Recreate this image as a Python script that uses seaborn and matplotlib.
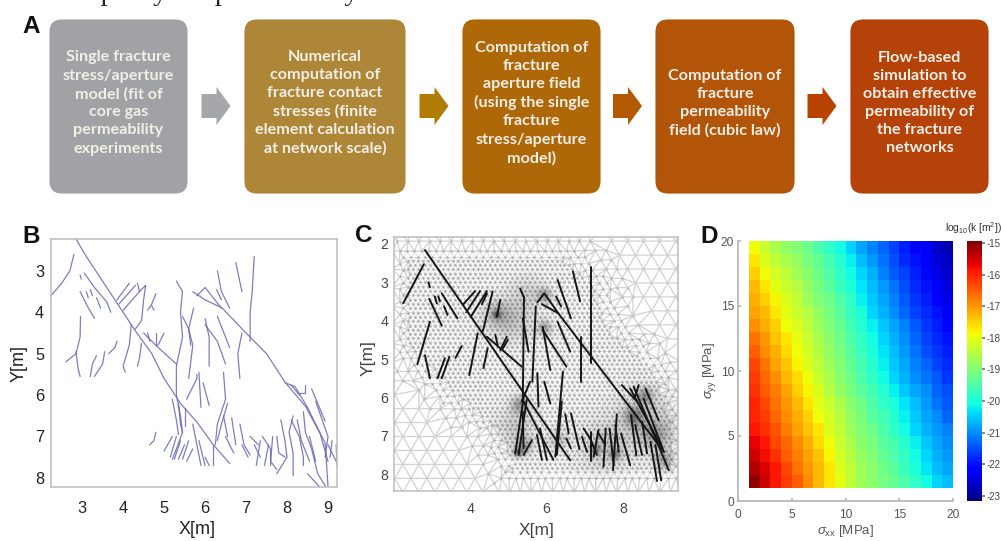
import numpy as np
import pandas as pd
import seaborn as sns
import matplotlib
matplotlib.use("Agg")
import matplotlib.pyplot as plt
from matplotlib.patches import FancyBboxPatch, Polygon
from matplotlib.path import Path
from matplotlib.tri import Triangulation

box_texts = [
    "Single fracture\nstress/aperture\nmodel (fit of\ncore gas\npermeability\nexperiments",
    "Numerical\ncomputation of\nfracture contact\nstresses (finite\nelement calculation\nat network scale)",
    "Computation of\nfracture\naperture field\n(using the single\nfracture\nstress/aperture\nmodel)",
    "Computation of\nfracture\npermeability\nfield (cubic law)",
    "Flow-based\nsimulation to\nobtain effective\npermeability of\nthe fracture\nnetworks",
]
box_colors = ["#9d9fa2", "#ab8231", "#ad6300", "#b04f00", "#b33c00"]
arrow_colors = ["#a5a7aa", "#b17c05", "#b35a00", "#b84300"]

# fracture traces in panel B, x and y in metres
fractures_b = [
    [(2.85, 2.23), (3.1, 2.65), (3.5, 3.25), (4.0, 4.0), (4.3, 4.45), (4.7, 5.0), (5.0, 5.6), (5.4, 6.2), (5.8, 6.65), (6.2, 7.2), (6.6, 7.65)],
    [(5.7, 3.5), (6.0, 3.7), (6.41, 3.89), (7.0, 4.5), (7.5, 5.0), (7.96, 5.7), (8.45, 6.27), (8.93, 7.15), (9.0, 8.2)],
    [(2.24, 3.6), (2.5, 3.3), (2.7, 3.0), (2.8, 2.6)],
    [(2.95, 3.1), (2.98, 3.2)],
    [(3.05, 3.05), (3.3, 3.4), (3.6, 3.75), (3.7, 4.0)],
    [(2.95, 3.5), (3.1, 3.8), (3.3, 4.15)],
    [(3.1, 3.5), (3.15, 3.65)],
    [(3.2, 3.45), (3.25, 3.6)],
    [(3.35, 3.65), (3.45, 3.9)],
    [(2.96, 4.1), (2.95, 4.6), (2.85, 5.0), (2.6, 5.2)],
    [(2.85, 4.95), (2.9, 5.35), (2.95, 5.55)],
    [(3.2, 5.55), (3.25, 5.25), (3.35, 5.05)],
    [(3.3, 5.55), (3.5, 5.25), (3.55, 4.95)],
    [(3.65, 5.0), (3.8, 4.85), (3.85, 4.7)],
    [(3.85, 3.7), (4.15, 3.3)],
    [(3.9, 3.8), (4.3, 3.35)],
    [(4.0, 3.95), (4.4, 3.5), (4.55, 3.35)],
    [(4.35, 3.3), (4.4, 3.5)],
    [(4.55, 3.35), (4.5, 3.7), (4.45, 4.2), (4.3, 4.4)],
    [(4.8, 3.55), (4.7, 3.8), (4.6, 3.95)],
    [(4.7, 3.85), (4.75, 3.95)],
    [(4.2, 4.3), (4.15, 4.8), (4.0, 5.3), (4.05, 5.45)],
    [(4.45, 4.75), (4.4, 5.1), (4.35, 5.3)],
    [(4.5, 4.5), (4.8, 4.8), (5.3, 5.25)],
    [(4.6, 4.5), (4.65, 4.7)],
    [(4.8, 4.5), (4.8, 4.8)],
    [(5.0, 4.5), (4.85, 4.8)],
    [(5.3, 3.25), (5.45, 3.5), (5.4, 4.0), (5.45, 4.6), (5.3, 5.3), (5.3, 6.0), (5.4, 6.5), (5.45, 6.9)],
    [(5.45, 4.1), (5.6, 4.4), (5.65, 4.8)],
    [(5.72, 3.9), (5.6, 4.4), (5.7, 4.8), (5.6, 5.6)],
    [(5.55, 6.1), (5.8, 5.6), (5.8, 5.5)],
    [(5.85, 5.45), (5.9, 6.3)],
    [(6.0, 4.15), (6.1, 4.6), (6.1, 5.3)],
    [(6.0, 4.3), (6.3, 4.7), (6.5, 5.25)],
    [(5.95, 5.7), (6.1, 6.25)],
    [(5.8, 3.6), (6.0, 3.4), (6.2, 3.65), (6.4, 3.9)],
    [(6.3, 3.0), (6.4, 3.5), (6.6, 3.9)],
    [(6.28, 3.45), (6.4, 3.7)],
    [(6.3, 4.1), (6.5, 4.6), (6.6, 4.85)],
    [(6.75, 2.8), (6.9, 3.5)],
    [(7.2, 2.65), (7.15, 3.5), (7.1, 4.0), (7.1, 4.7)],
    [(6.9, 4.5), (6.8, 5.0), (6.85, 5.6)],
    [(6.45, 5.45), (6.5, 6.1), (6.3, 6.7), (6.25, 7.2)],
    [(4.8, 6.9), (4.75, 7.1), (4.65, 7.2)],
    [(5.2, 7.0), (5.0, 7.35)],
    [(5.3, 7.0), (5.15, 7.5)],
    [(5.4, 7.1), (5.25, 7.55)],
    [(5.5, 7.2), (5.35, 7.55)],
    [(5.6, 7.1), (5.45, 7.55)],
    [(5.7, 7.3), (5.55, 7.6)],
    [(5.45, 6.9), (5.3, 7.3), (5.2, 7.55)],
    [(5.7, 6.7), (5.8, 7.2), (5.9, 7.7)],
    [(5.85, 7.1), (6.0, 7.7)],
    [(6.0, 7.5), (6.1, 7.7)],
    [(6.2, 7.2), (6.2, 7.7)],
    [(5.2, 6.1), (5.3, 6.6), (5.35, 6.95)],
    [(5.35, 6.2), (5.4, 6.7), (5.45, 6.9)],
    [(5.5, 6.3), (5.5, 6.75)],
    [(6.55, 6.2), (6.4, 6.7), (6.3, 7.1)],
    [(6.45, 6.5), (6.55, 7.0)],
    [(6.65, 6.55), (6.75, 7.2)],
    [(6.85, 6.7), (6.95, 7.2), (7.1, 7.45)],
    [(6.5, 7.0), (6.7, 7.4)],
    [(6.9, 7.2), (7.05, 7.5)],
    [(7.1, 7.0), (7.3, 7.2)],
    [(7.2, 7.2), (7.35, 7.5)],
    [(7.35, 7.1), (7.25, 7.7)],
    [(7.55, 7.2), (7.45, 7.7)],
    [(7.4, 7.0), (7.6, 7.3), (7.6, 7.7)],
    [(7.65, 7.0), (7.6, 7.6), (7.75, 7.8)],
    [(7.75, 7.0), (7.8, 7.4), (7.95, 7.5)],
    [(7.85, 6.6), (7.95, 7.1), (8.0, 7.5), (7.75, 7.9)],
    [(8.15, 6.5), (8.05, 6.9), (8.15, 7.4), (8.15, 7.95)],
    [(8.1, 6.6), (8.3, 7.0), (8.4, 7.5), (8.4, 7.7)],
    [(8.25, 6.6), (8.35, 7.1), (8.55, 7.6)],
    [(8.4, 6.4), (8.45, 6.9), (8.6, 7.3), (8.75, 7.9), (8.95, 8.22)],
    [(8.5, 6.3), (8.8, 6.9), (9.0, 7.6)],
    [(8.55, 7.0), (8.7, 7.6)],
    [(8.5, 7.9), (8.8, 8.22)],
    [(8.6, 5.85), (8.93, 6.63)],
    [(8.7, 6.15), (9.0, 7.0), (8.93, 7.5)],
    [(7.95, 5.7), (8.2, 5.8), (8.5, 6.3)],
    [(8.1, 5.75), (8.3, 6.0)],
    [(8.3, 5.95), (8.45, 5.95), (8.45, 5.75)],
    [(9.0, 7.2), (9.2, 7.6)],
    [(9.1, 7.1), (9.05, 7.5)],
    [(9.2, 7.2), (9.22, 7.7)],
]

# the same network straightened for the mesh in panel C
fractures_c = [
    [(2.82, 2.16), (6.62, 7.64)],
    [(5.88, 3.57), (6.31, 3.81), (9.07, 7.42)],
    [(2.25, 3.55), (2.79, 2.53)], [(2.91, 3.0), (2.95, 3.13)], [(2.93, 3.43), (3.26, 4.13)],
    [(3.08, 3.37), (3.13, 3.55)], [(3.17, 3.37), (3.21, 3.50)], [(3.26, 3.29), (3.67, 3.94)],
    [(3.32, 3.63), (3.41, 3.85)], [(2.95, 4.03), (2.62, 5.14)], [(2.82, 4.90), (2.95, 5.50)],
    [(3.15, 5.50), (3.34, 4.98)], [(3.26, 5.50), (3.46, 4.94)], [(3.62, 4.97), (3.78, 4.66)],
    [(3.81, 3.59), (4.13, 3.23)], [(3.90, 3.78), (4.26, 3.23)], [(4.02, 3.90), (4.44, 3.23)],
    [(4.31, 3.57), (4.44, 3.29)], [(4.59, 3.24), (4.33, 4.29)], [(4.79, 3.46), (4.70, 3.90)],
    [(4.20, 4.33), (3.98, 5.42)], [(4.46, 4.72), (4.35, 5.24)], [(4.44, 4.42), (5.35, 5.20)],
    [(4.66, 4.37), (4.72, 4.63)], [(4.79, 4.77), (4.96, 4.42)], [(4.85, 4.74), (4.99, 4.50)],
    [(5.31, 3.16), (5.40, 3.37)], [(5.41, 3.37), (5.38, 6.11)], [(5.38, 3.94), (5.53, 4.81)],
    [(5.72, 3.63), (5.63, 5.59)], [(5.76, 5.37), (5.79, 6.24)], [(5.57, 5.59), (5.35, 6.11)],
    [(5.90, 4.16), (6.10, 5.29)], [(5.90, 4.24), (6.52, 5.20)], [(5.94, 5.59), (6.10, 6.16)],
    [(5.76, 3.52), (5.94, 3.29), (6.31, 3.81)], [(6.29, 2.94), (6.64, 3.94)], [(6.25, 3.37), (6.38, 3.63)],
    [(6.29, 4.03), (6.62, 4.81)], [(6.69, 2.72), (6.88, 3.50)], [(7.16, 2.59), (7.16, 5.11)],
    [(6.91, 4.42), (6.91, 5.59)], [(6.43, 5.33), (6.23, 7.55)], [(5.40, 6.03), (5.18, 7.46)],
    [(5.48, 6.07), (5.27, 7.50)], [(5.38, 6.37), (5.40, 7.33)], [(5.40, 6.11), (6.18, 7.63)],
    [(5.62, 7.11), (5.40, 7.50)], [(5.75, 6.98), (5.88, 7.63)], [(5.83, 6.81), (6.01, 7.63)],
    [(6.40, 6.11), (6.27, 7.50)], [(6.49, 6.44), (6.58, 6.94)], [(6.64, 6.42), (6.86, 7.35)],
    [(6.52, 7.07), (6.64, 7.33)], [(6.93, 7.03), (7.06, 7.42)], [(6.97, 6.81), (7.14, 7.07)],
    [(7.17, 6.90), (7.17, 7.66)], [(7.14, 7.07), (7.32, 7.50)], [(7.36, 6.85), (7.23, 7.55)],
    [(7.34, 6.90), (7.54, 7.24)], [(7.55, 6.81), (7.49, 7.81)], [(7.65, 6.81), (7.76, 7.77)],
    [(7.84, 6.44), (7.74, 7.90)], [(7.80, 6.72), (7.89, 7.42)], [(7.95, 6.94), (8.19, 7.77)],
    [(7.97, 5.68), (8.37, 6.11)], [(8.19, 5.77), (8.98, 7.24)], [(8.28, 5.72), (9.20, 7.90)],
    [(8.41, 5.68), (8.32, 5.98)], [(8.59, 5.77), (8.93, 6.59)], [(8.21, 6.46), (8.35, 7.52)],
    [(8.32, 6.72), (8.50, 7.50)], [(8.50, 6.63), (8.63, 7.46)], [(8.72, 7.16), (8.89, 8.18)],
    [(8.85, 7.24), (9.00, 8.16)], [(8.54, 6.03), (9.07, 7.42)],
]

# outlines of the refined mesh zones and the dark spots at fracture clusters
fine_zone = [(2.35, 2.4), (6.4, 2.4), (7.2, 3.0), (7.6, 4.2), (8.9, 5.4), (9.3, 7.0), (9.25, 7.9),
             (5.1, 7.9), (4.8, 6.9), (3.5, 5.8), (2.35, 4.6)]
middle_zone = [(2.15, 2.1), (6.8, 2.1), (7.6, 2.9), (8.05, 4.1), (9.2, 5.2), (9.5, 7.0), (9.5, 8.2),
               (4.85, 8.2), (4.4, 7.0), (3.2, 6.1), (2.15, 4.9)]
outer_zone = [(1.9, 1.8), (7.3, 1.8), (8.1, 2.9), (8.5, 4.0), (9.6, 5.1), (9.6, 8.5),
              (4.6, 8.5), (4.0, 7.2), (2.9, 6.4), (1.9, 5.2)]
spot_x = [4.7, 4.7, 5.95, 5.95, 5.3, 5.4, 8.3, 8.6, 5.25, 7.3, 7.8, 9.1, 6.3, 5.1, 8.9, 5.5, 8.6, 7.5, 5.2]
spot_y = [3.85, 3.85, 3.35, 4.2, 6.2, 7.3, 6.5, 5.95, 7.45, 7.35, 7.5, 7.65, 7.1, 4.0, 7.0, 3.3, 6.6, 7.3, 6.8]
spot_w = [0.07, 0.25, 0.13, 0.14, 0.16, 0.16, 0.17, 0.14, 0.08, 0.09, 0.1, 0.18, 0.18, 0.4, 0.25, 0.3, 0.55, 0.45, 0.35]
spot_a = [0.5, 0.25, 0.4, 0.35, 0.4, 0.35, 0.45, 0.4, 0.5, 0.45, 0.45, 0.35, 0.25, 0.2, 0.3, 0.15, 0.22, 0.2, 0.2]

# log10 permeability, rows from syy=1 upward, columns from sxx=1 rightward
perm_rows = [
    [-15.1, -15.5, -15.9, -16.2, -16.5, -16.9, -17.3, -17.7, -18.0, -18.4, -18.7, -18.9, -19.1, -19.3, -19.5, -19.8, -20.1, -20.4, -20.6],
    [-15.3, -15.6, -15.9, -16.3, -16.7, -17.0, -17.3, -17.7, -18.1, -18.4, -18.7, -18.9, -19.2, -19.4, -19.7, -20.0, -20.3, -20.6, -20.8],
    [-15.5, -15.8, -16.1, -16.5, -16.8, -17.1, -17.4, -17.8, -18.2, -18.5, -18.8, -19.0, -19.3, -19.5, -19.8, -20.1, -20.4, -20.7, -20.9],
    [-15.7, -15.9, -16.3, -16.6, -16.9, -17.2, -17.6, -17.9, -18.3, -18.6, -18.9, -19.1, -19.4, -19.6, -19.9, -20.2, -20.5, -20.8, -21.0],
    [-15.9, -16.1, -16.4, -16.8, -17.1, -17.4, -17.7, -18.1, -18.4, -18.7, -19.0, -19.2, -19.5, -19.8, -20.1, -20.4, -20.7, -20.9, -21.1],
    [-16.0, -16.2, -16.6, -16.9, -17.2, -17.5, -17.9, -18.2, -18.5, -18.8, -19.1, -19.4, -19.6, -19.9, -20.2, -20.5, -20.8, -21.0, -21.3],
    [-16.0, -16.3, -16.7, -17.0, -17.3, -17.7, -18.0, -18.3, -18.6, -18.9, -19.2, -19.5, -19.8, -20.0, -20.3, -20.6, -20.9, -21.2, -21.4],
    [-16.1, -16.5, -16.8, -17.1, -17.5, -17.8, -18.1, -18.5, -18.8, -19.1, -19.4, -19.6, -19.9, -20.2, -20.5, -20.8, -21.0, -21.3, -21.5],
    [-16.2, -16.6, -16.9, -17.3, -17.6, -17.9, -18.3, -18.6, -18.9, -19.2, -19.5, -19.8, -20.1, -20.4, -20.7, -21.0, -21.2, -21.4, -21.7],
    [-16.3, -16.7, -17.1, -17.4, -17.8, -18.1, -18.4, -18.7, -19.0, -19.3, -19.6, -19.9, -20.2, -20.5, -20.8, -21.1, -21.3, -21.6, -21.8],
    [-16.5, -16.9, -17.2, -17.6, -17.9, -18.2, -18.5, -18.8, -19.1, -19.4, -19.7, -20.0, -20.3, -20.6, -20.9, -21.2, -21.5, -21.7, -21.9],
    [-16.7, -17.0, -17.4, -17.7, -18.0, -18.3, -18.6, -18.9, -19.2, -19.5, -19.8, -20.1, -20.4, -20.7, -21.0, -21.3, -21.6, -21.8, -22.0],
    [-16.9, -17.2, -17.5, -17.9, -18.1, -18.4, -18.7, -19.0, -19.3, -19.6, -19.9, -20.2, -20.5, -20.8, -21.1, -21.4, -21.7, -21.9, -22.1],
    [-17.1, -17.3, -17.7, -18.0, -18.3, -18.5, -18.8, -19.1, -19.4, -19.7, -20.0, -20.4, -20.7, -21.0, -21.3, -21.6, -21.8, -22.0, -22.3],
    [-17.2, -17.5, -17.8, -18.1, -18.4, -18.7, -19.0, -19.2, -19.5, -19.8, -20.2, -20.5, -20.8, -21.1, -21.4, -21.7, -21.9, -22.2, -22.4],
    [-17.3, -17.7, -18.0, -18.3, -18.5, -18.8, -19.1, -19.4, -19.7, -20.0, -20.3, -20.6, -20.9, -21.2, -21.5, -21.8, -22.0, -22.3, -22.5],
    [-17.5, -17.9, -18.2, -18.4, -18.7, -18.9, -19.2, -19.5, -19.8, -20.1, -20.4, -20.7, -21.1, -21.4, -21.6, -21.9, -22.1, -22.4, -22.6],
    [-17.7, -18.1, -18.4, -18.6, -18.8, -19.1, -19.3, -19.6, -19.9, -20.2, -20.6, -20.9, -21.2, -21.5, -21.8, -22.0, -22.2, -22.5, -22.7],
    [-17.9, -18.3, -18.6, -18.8, -19.0, -19.2, -19.5, -19.8, -20.1, -20.4, -20.8, -21.1, -21.3, -21.6, -21.9, -22.1, -22.3, -22.6, -22.8],
]
cbar_ticks = [-15, -16, -17, -18, -19, -20, -21, -22, -23]

W, H = 1001, 541


def px_axes(fig, left, top, right, bottom):
    return fig.add_axes([left / W, 1 - bottom / H, (right - left) / W, (bottom - top) / H])


def to_frame(lines):
    rows = [(i, x, y) for i, line in enumerate(lines) for x, y in line]
    return pd.DataFrame(rows, columns=["frac", "x", "y"])


def hex_lattice(h):
    ys = np.arange(1.2, 9.0, h * 0.866)
    pts = []
    for i, y in enumerate(ys):
        for x in np.arange(1.4 + (i % 2) * h / 2, 10.2, h):
            pts.append((x, y))
    return np.array(pts)


def style_axes(ax, color="#bdbdbd"):
    for s in ax.spines.values():
        s.set_visible(True)
        s.set_color(color)
        s.set_linewidth(1.1)


sns.set_theme(style="white")
plt.rcParams["font.family"] = ["Liberation Sans", "DejaVu Sans"]
plt.rcParams["mathtext.fontset"] = "custom"
plt.rcParams["mathtext.rm"] = "Liberation Sans"
plt.rcParams["mathtext.it"] = "Liberation Sans:italic"
plt.rcParams["mathtext.bf"] = "Liberation Sans:bold"

fig = plt.figure(figsize=(W / 100, H / 100), dpi=100)

# page overlay in pixel coordinates
page = fig.add_axes([0, 0, 1, 1])
page.set_xlim(0, W)
page.set_ylim(H, 0)
page.axis("off")

page.text(-9, 0.5, "used as a proxy for permeability at the reservoir scale.", family="Liberation Serif",
          fontsize=20.5, color="#222222", va="baseline", ha="left")

box_edges = [(50, 187), (245, 405), (463, 600), (656, 794), (851, 988)]
for (x0, x1), c, txt in zip(box_edges, box_colors, box_texts):
    page.add_patch(FancyBboxPatch((x0, 20), x1 - x0, 173, boxstyle="round,pad=0,rounding_size=12",
                                  facecolor=c, edgecolor=c, lw=0.8, alpha=0.97))
    page.text((x0 + x1) / 2, 103, txt, ha="center", va="center", family="Lato", weight="bold",
              fontsize=11.6, color="#f3eee6", linespacing=1.37)

for x0, c in zip([201.5, 419.5, 613, 807.5], arrow_colors):
    page.add_patch(Polygon([(x0, 94), (x0 + 15, 94), (x0 + 15, 87), (x0 + 29, 106),
                            (x0 + 15, 125), (x0 + 15, 118), (x0, 118)], closed=True, facecolor=c, edgecolor="none"))

for lab, x, y in [("A", 22, 33), ("B", 22, 243), ("C", 355, 242), ("D", 700, 243)]:
    page.text(x, y, lab, fontsize=17.5, weight="bold", color="#111111", va="baseline")

for txt, x, y, rot, size, col in [
    ("X[m]", 197, 530, 0, 13, "#222222"), ("Y[m]", 19, 363, 90, 13, "#222222"),
    ("X[m]", 537, 530, 0, 12.5, "#444444"), ("Y[m]", 368, 358, 90, 12.5, "#444444"),
    (r"$\sigma_{\mathrm{xx}}$ [MPa]", 845, 531, 0, 9.5, "#555555"),
    (r"$\sigma_{\mathrm{yy}}$ [MPa]", 710, 371, 90, 9.5, "#555555"),
    (r"log$_{10}$(k [m$^2$])", 973, 228, 0, 7.4, "#333333"),
]:
    page.text(x, y, txt, rotation=rot, fontsize=size, color=col, ha="center", va="center")

# panel B
ax_b = px_axes(fig, 51, 239, 337, 487)
sns.lineplot(data=to_frame(fractures_b), x="x", y="y", units="frac", estimator=None, sort=False,
             color="#6468b4", linewidth=0.9, alpha=0.85, ax=ax_b, legend=False)
ax_b.set(xlim=(2.24, 9.22), ylim=(8.22, 2.23), xlabel="", ylabel="")
ax_b.set_xticks(range(3, 10))
ax_b.set_yticks(range(3, 9))
ax_b.tick_params(length=2, direction="in", color="#b5b5b5", labelsize=11.8, labelcolor="#222222")
ax_b.tick_params(axis="x", pad=10)
ax_b.tick_params(axis="y", pad=5)
style_axes(ax_b)

# panel C
ax_c = px_axes(fig, 394, 237, 678, 491)
fine_path, middle_path, outer_path = Path(fine_zone), Path(middle_zone), Path(outer_zone)
pts_f = hex_lattice(0.13)
pts_f = pts_f[fine_path.contains_points(pts_f)]
pts_g = hex_lattice(0.19)
pts_g = pts_g[middle_path.contains_points(pts_g) & ~fine_path.contains_points(pts_g, radius=0.09)]
pts_m = hex_lattice(0.28)
pts_m = pts_m[outer_path.contains_points(pts_m) & ~middle_path.contains_points(pts_m, radius=0.13)]
pts_c = hex_lattice(0.42)
pts_c = pts_c[~outer_path.contains_points(pts_c, radius=0.18)]
nodes = np.vstack([pts_f, pts_g, pts_m, pts_c])
tri = Triangulation(nodes[:, 0], nodes[:, 1])
tp = nodes[tri.triangles]
edge = np.max(np.linalg.norm(tp - np.roll(tp, 1, axis=1), axis=2), axis=1)
tri_fine = Triangulation(nodes[:, 0], nodes[:, 1], tri.triangles, mask=edge > 0.2)
tri_big = Triangulation(nodes[:, 0], nodes[:, 1], tri.triangles, mask=edge <= 0.2)
ax_c.triplot(tri_big, color="#d2d2d2", lw=0.9, zorder=1)
ax_c.triplot(tri_fine, color="#d4d4d4", lw=0.5, zorder=1)
ax_c.scatter(pts_f[:, 0], pts_f[:, 1], s=3, color="#a8a8a8", linewidths=0, zorder=1.5)
ax_c.scatter(pts_g[:, 0], pts_g[:, 1], s=3, color="#b0b0b0", linewidths=0, zorder=1.5)
ax_c.scatter(pts_m[:, 0], pts_m[:, 1], s=3, color="#bababa", linewidths=0, zorder=1.5)

gx, gy = np.meshgrid(np.linspace(2.01, 9.44, 300), np.linspace(1.82, 8.44, 300))
shade = np.zeros_like(gx)
for sx, sy, sw, sa in zip(spot_x, spot_y, spot_w, spot_a):
    shade = shade + sa * np.exp(-((gx - sx) ** 2 + (gy - sy) ** 2) / (2 * sw ** 2))
rgba = np.zeros(gx.shape + (4,))
rgba[..., :3] = 0.15
rgba[..., 3] = np.clip(shade, 0, 0.8)
ax_c.imshow(rgba, extent=[2.01, 9.44, 1.82, 8.44], origin="lower", aspect="auto", zorder=2)

sns.lineplot(data=to_frame(fractures_c), x="x", y="y", units="frac", estimator=None, sort=False,
             color="#151515", linewidth=1.4, ax=ax_c, legend=False, zorder=3)
ax_c.set(xlim=(2.01, 9.44), ylim=(8.44, 1.82), xlabel="", ylabel="")
ax_c.set_xticks([4, 6, 8])
ax_c.set_yticks(range(2, 9))
ax_c.tick_params(length=0, labelsize=10.2, labelcolor="#444444")
ax_c.tick_params(axis="x", pad=8)
ax_c.tick_params(axis="y", pad=4)
style_axes(ax_c)

# panel D, with an empty first row and column so cell i covers i..i+1
perm = np.full((20, 20), np.nan)
perm[1:, 1:] = np.array(perm_rows)
ax_d = px_axes(fig, 738, 241, 953, 501)
cax = px_axes(fig, 967, 241, 982, 501)
sns.heatmap(perm, cmap="jet", vmin=-23.16, vmax=-14.94, ax=ax_d, cbar_ax=cax, xticklabels=False, yticklabels=False)
ax_d.set_ylim(0, 20)
ax_d.set_xlim(0, 20)
ax_d.set_xticks([0, 5, 10, 15, 20], labels=["0", "5", "10", "15", "20"], rotation=0)
ax_d.set_yticks([0, 5, 10, 15, 20], labels=["0", "5", "10", "15", "20"], rotation=0)
ax_d.tick_params(length=2, direction="in", color="#b5b5b5", labelsize=8.6, labelcolor="#555555",
                 bottom=True, left=True)
ax_d.tick_params(axis="x", pad=6)
ax_d.tick_params(axis="y", pad=3)
for side in ["left", "bottom"]:
    ax_d.spines[side].set_visible(True)
    ax_d.spines[side].set_color("#b5b5b5")
    ax_d.spines[side].set_linewidth(1.2)
cax.set_yticks(cbar_ticks, labels=[str(t) for t in cbar_ticks])
cax.tick_params(length=2, direction="out", color="#777777", labelsize=7, labelcolor="#444444", pad=1, right=True)

fig.savefig("out.png", dpi=100)
